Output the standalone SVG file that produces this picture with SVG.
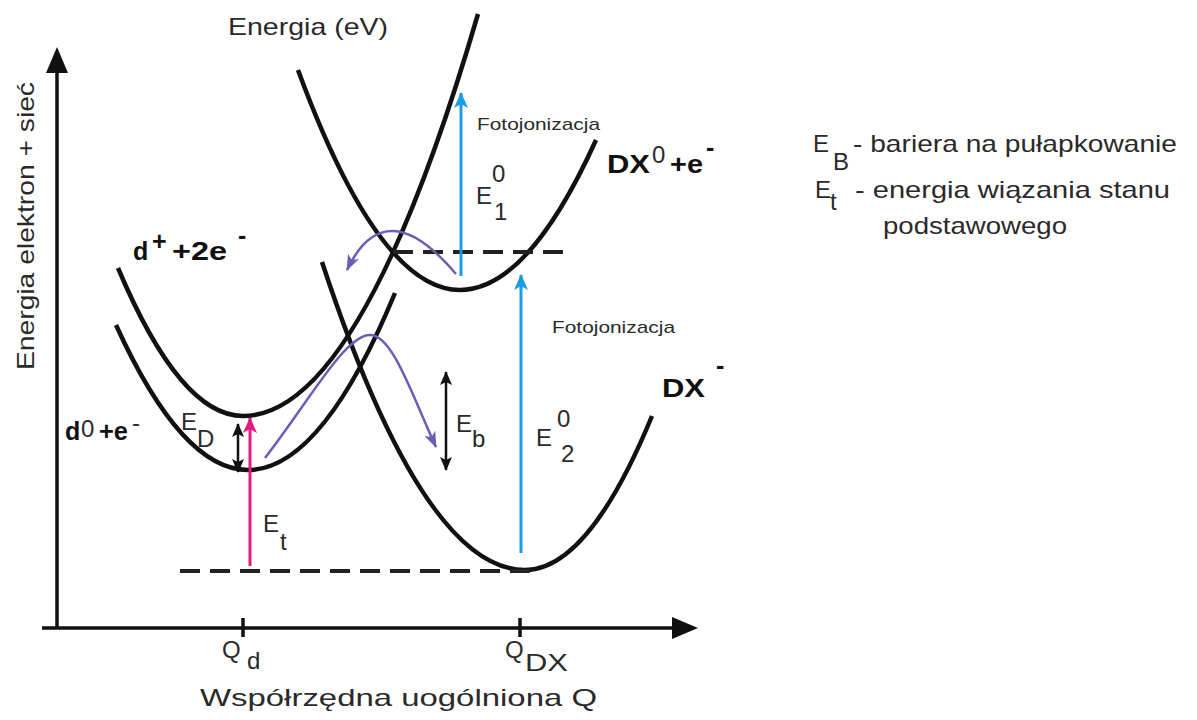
<svg xmlns="http://www.w3.org/2000/svg" width="1197" height="720" viewBox="0 0 1197 720">
<style>
text{font-family:"Liberation Sans",Arial,sans-serif;}
.lt{fill:#2a2a2a;font-size:24px;}
.bd{fill:#111;font-size:25px;font-weight:bold;}
.sm{fill:#2a2a2a;font-size:17px;}
.curve{fill:none;stroke:#111;stroke-width:4.5;stroke-linecap:butt;}
.axis{fill:none;stroke:#111;stroke-width:3.5;}
.dash{fill:none;stroke:#222;stroke-width:4;stroke-dasharray:20 10;}
.blue{stroke:#1a9de4;stroke-width:3;fill:none;}
.pink{stroke:#e5197e;stroke-width:3;fill:none;}
.purp{stroke:#6b5fb5;stroke-width:2.5;fill:none;}
.dbl{stroke:#111;stroke-width:2.5;fill:none;}
</style>
<defs>
<marker id="axh" markerWidth="10" markerHeight="10" refX="8" refY="5" orient="auto" markerUnits="userSpaceOnUse" viewBox="0 0 10 10"><path d="M0,0 L10,5 L0,10 Z" fill="#111"/></marker>
<marker id="bh" markerWidth="16" markerHeight="14" refX="15" refY="7" orient="auto" markerUnits="userSpaceOnUse"><path d="M0,0 L16,7 L0,14 L4,7 Z" fill="#1a9de4"/></marker>
<marker id="ph" markerWidth="16" markerHeight="14" refX="15" refY="7" orient="auto" markerUnits="userSpaceOnUse"><path d="M0,0 L16,7 L0,14 L4,7 Z" fill="#e5197e"/></marker>
<marker id="uh" markerWidth="16" markerHeight="12" refX="15" refY="6" orient="auto" markerUnits="userSpaceOnUse"><path d="M0,0 L16,6 L0,12 L4,6 Z" fill="#6b5fb5"/></marker>
<marker id="kh" markerWidth="14" markerHeight="12" refX="13" refY="6" orient="auto-start-reverse" markerUnits="userSpaceOnUse"><path d="M0,0 L14,6 L0,12 L3,6 Z" fill="#111"/></marker>
</defs>

<g id="axes">
<line class="axis" x1="57" y1="629" x2="57" y2="70"/>
<path d="M57,47 L46,73 L68,73 Z" fill="#111"/>
<line class="axis" x1="42" y1="628" x2="675" y2="628"/>
<path d="M698,628 L672,617 L672,639 Z" fill="#111"/>
<line class="axis" x1="243" y1="618" x2="243" y2="637"/>
<line class="axis" x1="520" y1="618" x2="520" y2="637"/>
</g>

<g id="curve-dplus">
<path class="curve" d="M118,268 Q180.5,416 243,416 Q360.5,416 478,14"/>
</g>
<g id="curve-d0">
<path class="curve" d="M116,325 Q182,470 248,470 Q321.5,470 395,293"/>
</g>
<g id="curve-dx0">
<path class="curve" d="M298,70 Q379,290 460,290 Q528,290 596,140"/>
</g>
<g id="curve-dxminus">
<path class="curve" d="M322,262 Q423.5,570 525,570 Q588.5,570 652,416"/>
</g>

<g id="levels">
<line class="dash" x1="393" y1="252" x2="563" y2="252"/>
<line class="dash" x1="180" y1="571" x2="532" y2="571"/>
</g>

<g id="connectors">
<line class="blue" x1="461" y1="276" x2="461" y2="93" marker-end="url(#bh)"/>
<line class="blue" x1="521" y1="553" x2="521" y2="275" marker-end="url(#bh)"/>
<line class="pink" x1="250" y1="566" x2="250" y2="418" marker-end="url(#ph)"/>
<line class="dbl" x1="238" y1="424" x2="238" y2="472" marker-start="url(#kh)" marker-end="url(#kh)"/>
<line class="dbl" x1="446" y1="372" x2="446" y2="470" marker-start="url(#kh)" marker-end="url(#kh)"/>
<path class="purp" d="M456,274 Q385,190 347,270" marker-end="url(#uh)"/>
<path class="purp" d="M265,458 C310,400 345,335 370,335 C392,335 410,390 436,447" marker-end="url(#uh)"/>
</g>

<g id="labels">
<text class="lt" x="228" y="35" textLength="160" lengthAdjust="spacingAndGlyphs">Energia (eV)</text>
<text class="lt" transform="translate(34,370) rotate(-90)" textLength="288" lengthAdjust="spacingAndGlyphs">Energia elektron + sieć</text>
<text class="lt" x="200" y="706" font-size="27" textLength="397" lengthAdjust="spacingAndGlyphs">Współrzędna uogólniona Q</text>

<text class="lt" x="222" y="658">Q</text>
<text class="lt" x="247" y="669">d</text>
<text class="lt" x="505" y="658">Q</text>
<text class="lt" x="525" y="671" textLength="43" lengthAdjust="spacingAndGlyphs">DX</text>
</g>

<g id="label-dplus">
<text class="bd" x="133" y="260">d</text>
<text class="bd" x="152" y="250" font-size="20">+</text>
<text class="bd" x="172" y="260" textLength="55" lengthAdjust="spacingAndGlyphs">+2e</text>
<text class="bd" x="238" y="244">-</text>
</g>
<g id="label-d0">
<text class="bd" x="65" y="440">d</text>
<text class="lt" x="81" y="437" font-size="18">0</text>
<text class="bd" x="99" y="440" textLength="29" lengthAdjust="spacingAndGlyphs">+e</text>
<text class="lt" x="132" y="431" font-size="20">-</text>
</g>
<g id="label-dx0">
<text class="bd" x="607" y="173" font-size="26" textLength="43" lengthAdjust="spacingAndGlyphs">DX</text>
<text class="lt" x="652" y="163" font-size="17">0</text>
<text class="bd" x="670" y="173" font-size="26" textLength="33" lengthAdjust="spacingAndGlyphs">+e</text>
<text class="bd" x="706" y="156" font-size="22">-</text>
</g>
<g id="label-dxminus">
<text class="bd" x="662" y="397" font-size="27" textLength="43" lengthAdjust="spacingAndGlyphs">DX</text>
<text class="bd" x="716" y="374" font-size="24">-</text>
</g>

<g id="label-ED">
<text class="lt" x="181" y="430">E</text>
<text class="lt" x="197" y="447" font-size="21">D</text>
</g>
<g id="label-Et">
<text class="lt" x="263" y="532" font-size="25">E</text>
<text class="lt" x="280" y="550" font-size="22">t</text>
</g>
<g id="label-Eb">
<text class="lt" x="456" y="432">E</text>
<text class="lt" x="472" y="447" font-size="23">b</text>
</g>
<g id="label-E20">
<text class="lt" x="536" y="446" font-size="26">E</text>
<text class="lt" x="557" y="427" font-size="22">0</text>
<text class="lt" x="561" y="462" font-size="22">2</text>
</g>
<g id="label-E10">
<text class="lt" x="476" y="204" font-size="27">E</text>
<text class="lt" x="492" y="182" font-size="22">0</text>
<text class="lt" x="494" y="220" font-size="22">1</text>
</g>
<g id="label-foto1">
<text class="sm" x="477" y="130" textLength="123" lengthAdjust="spacingAndGlyphs">Fotojonizacja</text>
</g>
<g id="label-foto2">
<text class="sm" x="552" y="333" textLength="123" lengthAdjust="spacingAndGlyphs">Fotojonizacja</text>
</g>

<g id="legend">
<text class="lt" x="813" y="152" font-size="25">E</text>
<text class="lt" x="833" y="170" font-size="22">B</text>
<text class="lt" x="853" y="152" textLength="324" lengthAdjust="spacingAndGlyphs">- bariera na pułapkowanie</text>
<text class="lt" x="815" y="198" font-size="25">E</text>
<text class="lt" x="830" y="210" font-size="22">t</text>
<text class="lt" x="855" y="198" textLength="315" lengthAdjust="spacingAndGlyphs">- energia wiązania stanu</text>
<text class="lt" x="883" y="234" textLength="184" lengthAdjust="spacingAndGlyphs">podstawowego</text>
</g>
</svg>
